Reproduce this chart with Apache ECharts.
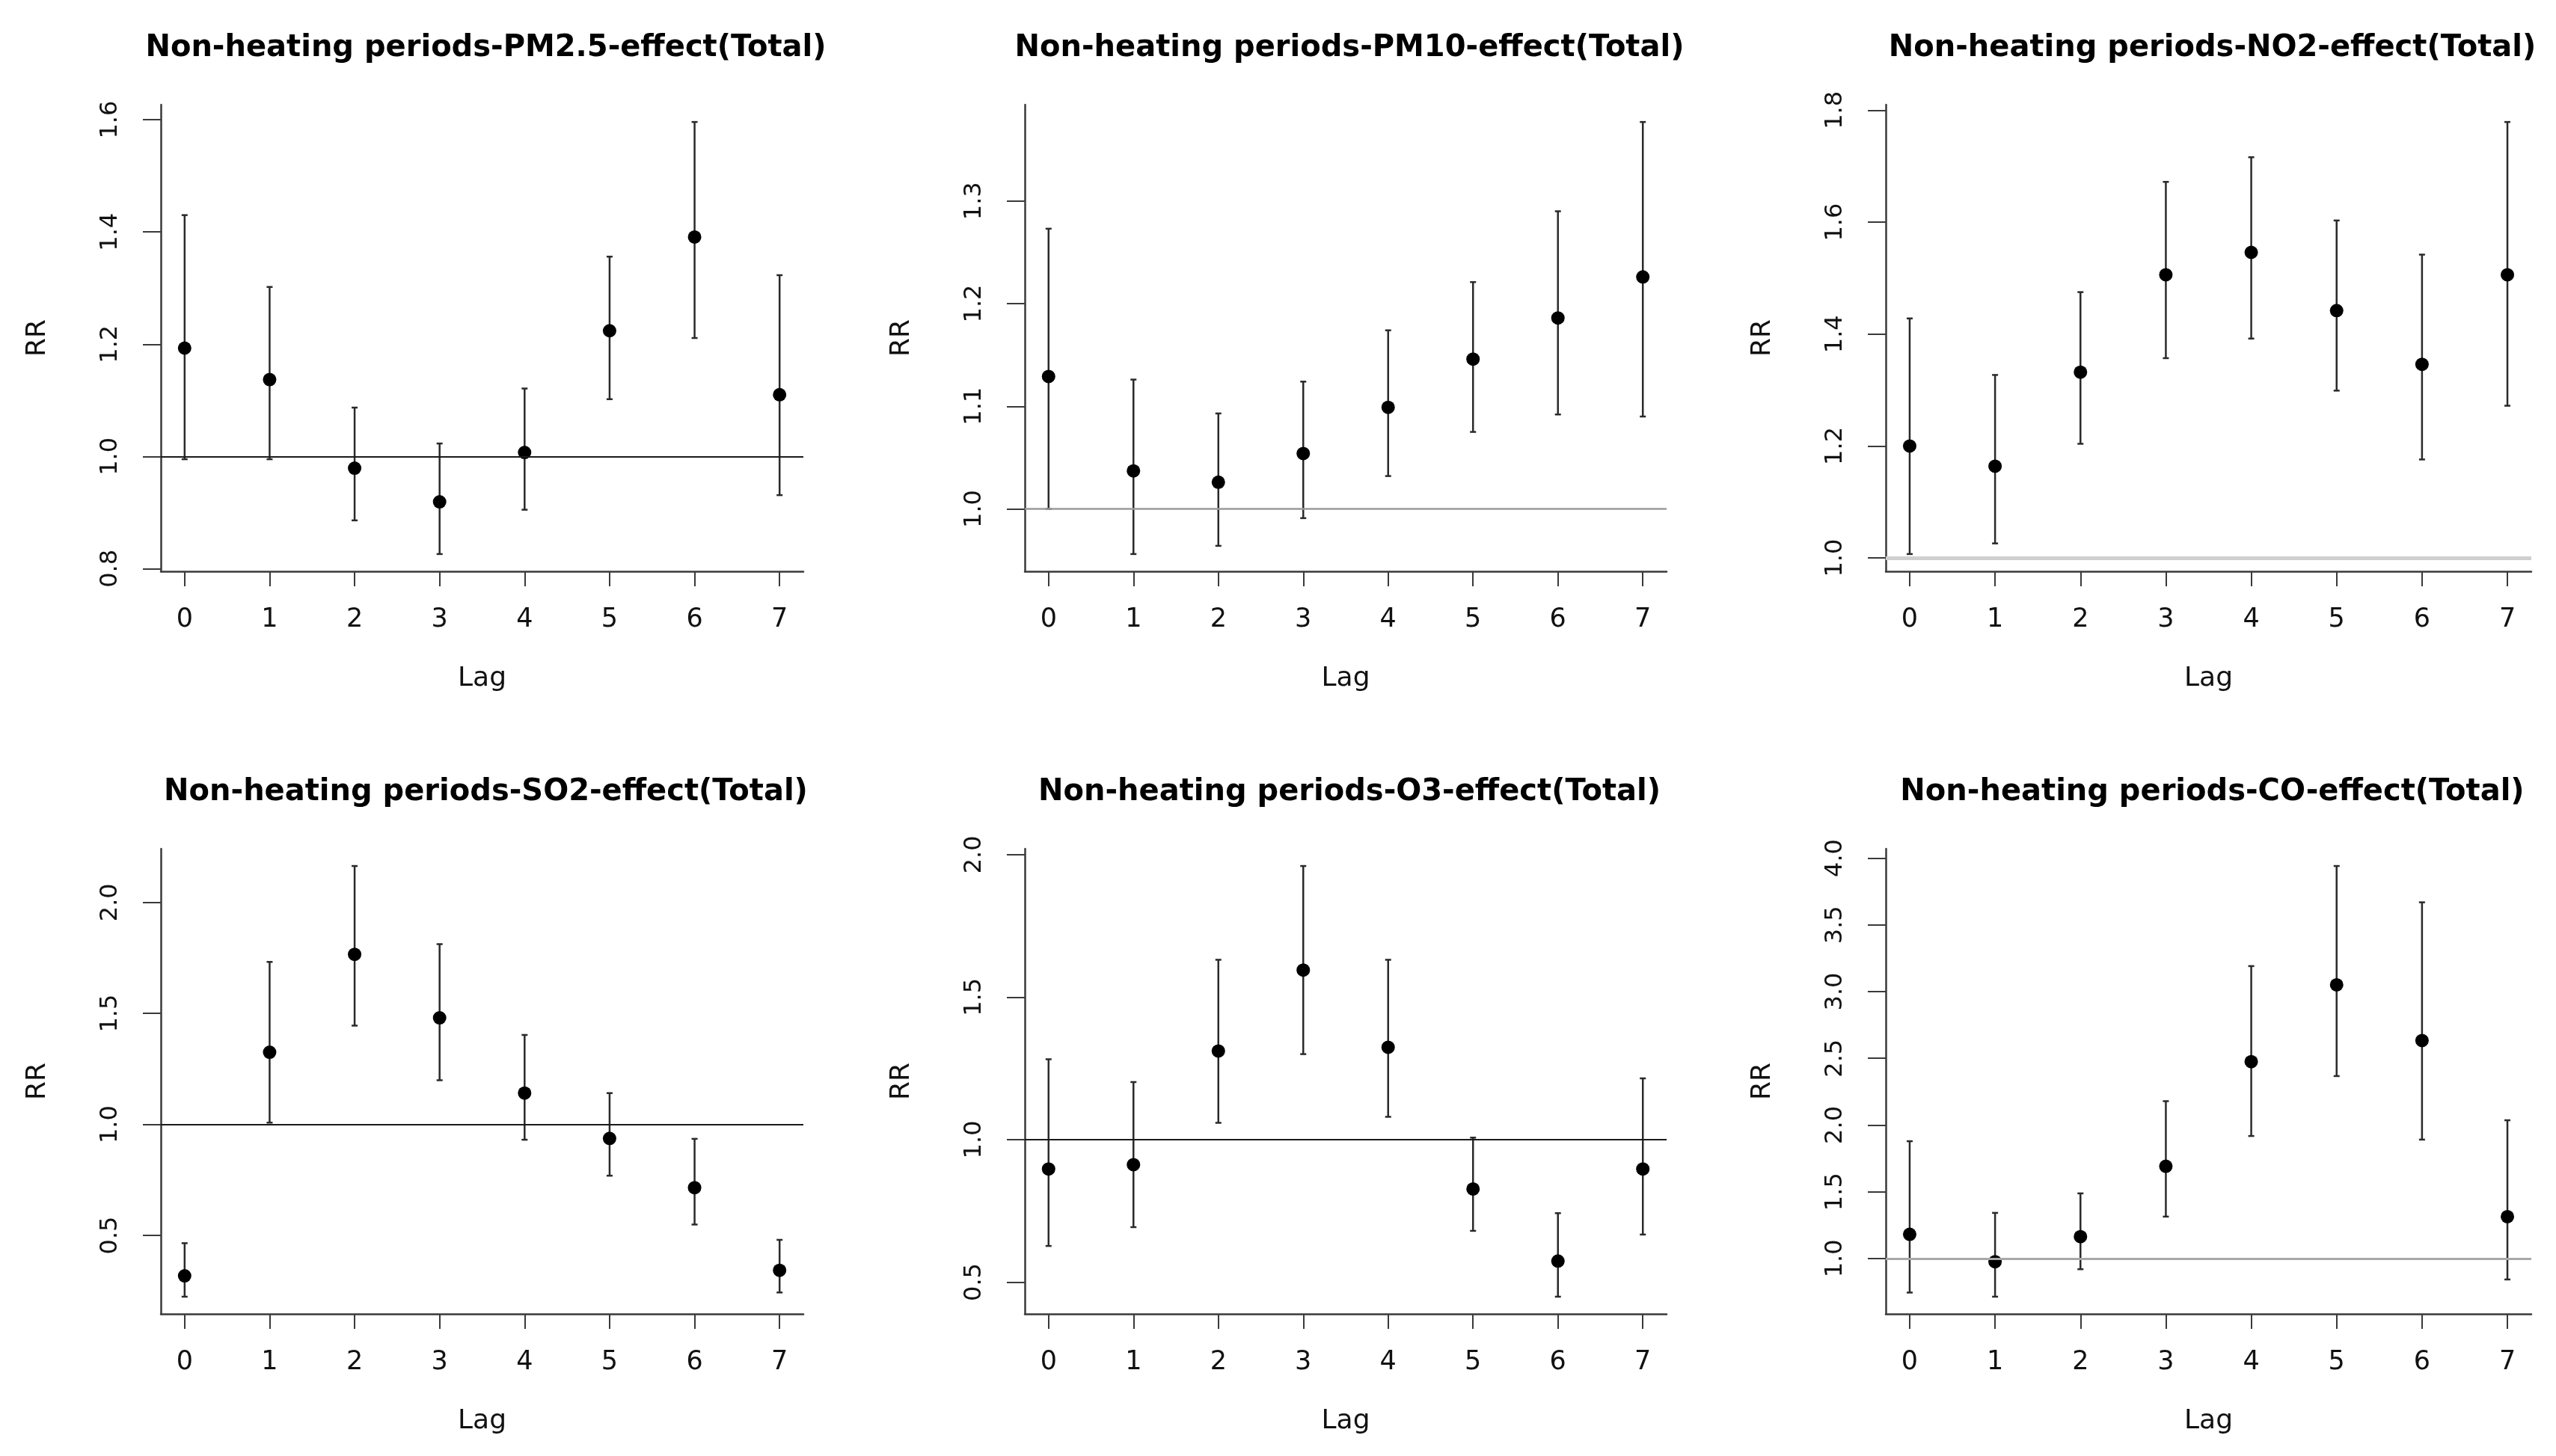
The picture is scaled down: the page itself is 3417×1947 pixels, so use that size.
<!DOCTYPE html>
<html>
<head>
<meta charset="utf-8">
<script src="https://cdn.jsdelivr.net/npm/echarts@6/dist/echarts.min.js"></script>
<style>
html,body{margin:0;padding:0;background:#ffffff;}
#chart{width:3417px;height:1947px;}
</style>
</head>
<body>
<div id="chart"></div>
<script>
// ---------------- data ----------------
const lags = [0, 1, 2, 3, 4, 5, 6, 7];
const lagTicks = [0, 1, 2, 3, 4, 5, 6, 7];

const titles = [
  "Non-heating periods-PM2.5-effect(Total)",
  "Non-heating periods-PM10-effect(Total)",
  "Non-heating periods-NO2-effect(Total)",
  "Non-heating periods-SO2-effect(Total)",
  "Non-heating periods-O3-effect(Total)",
  "Non-heating periods-CO-effect(Total)"
];

const pm25Est  = [1.193, 1.137, 0.979, 0.919, 1.007, 1.224, 1.391, 1.110];
const pm25Low  = [0.995, 0.995, 0.886, 0.826, 0.905, 1.102, 1.211, 0.931];
const pm25High = [1.430, 1.302, 1.087, 1.023, 1.121, 1.356, 1.596, 1.323];
const pm25Ticks = [0.8, 1.0, 1.2, 1.4, 1.6];

const pm10Est  = [1.129, 1.037, 1.026, 1.054, 1.099, 1.146, 1.186, 1.226];
const pm10Low  = [1.000, 0.956, 0.964, 0.991, 1.032, 1.075, 1.092, 1.090];
const pm10High = [1.273, 1.126, 1.093, 1.124, 1.174, 1.221, 1.290, 1.377];
const pm10Ticks = [1.0, 1.1, 1.2, 1.3];

const no2Est  = [1.200, 1.164, 1.332, 1.506, 1.546, 1.442, 1.346, 1.506];
const no2Low  = [1.007, 1.026, 1.204, 1.357, 1.392, 1.299, 1.176, 1.272];
const no2High = [1.428, 1.327, 1.475, 1.672, 1.716, 1.603, 1.542, 1.779];
const no2Ticks = [1.0, 1.2, 1.4, 1.6, 1.8];

const so2Est  = [0.318, 1.325, 1.766, 1.480, 1.141, 0.937, 0.715, 0.343];
const so2Low  = [0.224, 1.008, 1.445, 1.199, 0.931, 0.769, 0.549, 0.243];
const so2High = [0.465, 1.732, 2.164, 1.812, 1.403, 1.141, 0.935, 0.480];
const so2Ticks = [0.5, 1.0, 1.5, 2.0];

const o3Est  = [0.897, 0.912, 1.311, 1.595, 1.324, 0.827, 0.574, 0.897];
const o3Low  = [0.627, 0.693, 1.059, 1.300, 1.080, 0.680, 0.449, 0.667];
const o3High = [1.282, 1.202, 1.631, 1.960, 1.631, 1.007, 0.742, 1.215];
const o3Ticks = [0.5, 1.0, 1.5, 2.0];

const coEst  = [1.181, 0.976, 1.164, 1.691, 2.475, 3.051, 2.633, 1.314];
const coLow  = [0.745, 0.714, 0.920, 1.314, 1.918, 2.367, 1.891, 0.843];
const coHigh = [1.879, 1.342, 1.488, 2.179, 3.191, 3.941, 3.669, 2.036];
const coTicks = [1.0, 1.5, 2.0, 2.5, 3.0, 3.5, 4.0];

const refValue = 1.0;

// ---------------- layout / style ----------------
const panels = [
  {est: pm25Est, low: pm25Low, high: pm25High, ticks: pm25Ticks},
  {est: pm10Est, low: pm10Low, high: pm10High, ticks: pm10Ticks},
  {est: no2Est,  low: no2Low,  high: no2High,  ticks: no2Ticks},
  {est: so2Est,  low: so2Low,  high: so2High,  ticks: so2Ticks},
  {est: o3Est,   low: o3Low,   high: o3High,   ticks: o3Ticks},
  {est: coEst,   low: coLow,   high: coHigh,   ticks: coTicks}
];
const gridRects = [
  {left: 215,  top: 140,  width: 859, height: 624},
  {left: 1370, top: 140,  width: 858, height: 624},
  {left: 2521, top: 140,  width: 863, height: 624},
  {left: 215,  top: 1135, width: 859, height: 622},
  {left: 1370, top: 1135, width: 858, height: 622},
  {left: 2521, top: 1135, width: 863, height: 622}
];
const refStyles = [
  {color: '#1a1a1a', width: 2},
  {color: '#9a9a9a', width: 2.5},
  {color: '#cfcfcf', width: 5},
  {color: '#1a1a1a', width: 2},
  {color: '#1a1a1a', width: 2},
  {color: '#a8a8a8', width: 3}
];
const axisColor = '#3a3a3a';
const textColor = '#111111';
const FONT = 'DejaVu Sans';

const grid = [], xAxis = [], yAxis = [], series = [], title = [];

panels.forEach(function (p, i) {
  const g = gridRects[i];
  grid.push({left: g.left, top: g.top, width: g.width, height: g.height, containLabel: false});

  const lo = Math.min.apply(null, p.low), hi = Math.max.apply(null, p.high);
  const ext = (hi - lo) * 0.04;
  const xlo = Math.min.apply(null, lags), xhi = Math.max.apply(null, lags);
  const xext = (xhi - xlo) * 0.04;

  title.push({
    text: titles[i],
    left: g.left + g.width / 2,
    top: g.top < 500 ? 40 : 1035,
    textAlign: 'center',
    textStyle: {fontFamily: FONT, fontWeight: 'bold', fontSize: 40, color: '#000'}
  });

  xAxis.push({
    gridIndex: i, type: 'value', min: xlo - xext, max: xhi + xext,
    axisLine: {show: true, onZero: false, lineStyle: {color: axisColor, width: 2.5}},
    axisTick: {show: true, length: 20, customValues: lagTicks, lineStyle: {color: axisColor, width: 2}},
    axisLabel: {show: true, customValues: lagTicks, fontFamily: FONT, fontSize: 35, color: textColor, margin: 47},
    splitLine: {show: false},
    name: 'Lag', nameLocation: 'middle', nameGap: 126,
    nameTextStyle: {fontFamily: FONT, fontSize: 36, color: textColor}
  });

  yAxis.push({
    gridIndex: i, type: 'value', min: lo - ext, max: hi + ext,
    axisLine: {show: true, onZero: false, lineStyle: {color: axisColor, width: 2.5}},
    axisTick: {show: true, length: 24, customValues: p.ticks, lineStyle: {color: axisColor, width: 2}},
    axisLabel: {show: true, customValues: p.ticks, rotate: 90, fontFamily: FONT, fontSize: 32, color: textColor, margin: 51,
      formatter: function (v) { return Number(v).toFixed(1); }},
    splitLine: {show: false},
    name: 'RR', nameLocation: 'middle', nameRotate: 90, nameGap: 146,
    nameTextStyle: {fontFamily: FONT, fontSize: 36, color: textColor}
  });

  series.push({
    type: 'custom', xAxisIndex: i, yAxisIndex: i, z: 2, silent: true,
    data: lags.map(function (l, k) { return [l, p.low[k], p.high[k]]; }),
    encode: {x: 0, y: [1, 2]},
    renderItem: function (params, api) {
      const x = api.value(0);
      const a = api.coord([x, api.value(1)]);
      const b = api.coord([x, api.value(2)]);
      const cap = 4;
      const st = {stroke: '#2a2a2a', lineWidth: 2.5};
      return {type: 'group', children: [
        {type: 'line', shape: {x1: a[0], y1: a[1], x2: b[0], y2: b[1]}, style: st},
        {type: 'line', shape: {x1: b[0] - cap, y1: b[1], x2: b[0] + cap, y2: b[1]}, style: st},
        {type: 'line', shape: {x1: a[0] - cap, y1: a[1], x2: a[0] + cap, y2: a[1]}, style: st}
      ]};
    }
  });

  series.push({
    type: 'scatter', xAxisIndex: i, yAxisIndex: i, z: 3,
    symbol: 'circle', symbolSize: 18,
    itemStyle: {color: '#000', opacity: 1},
    data: lags.map(function (l, k) { return [l, p.est[k]]; }),
    markLine: {
      silent: true, symbol: 'none', animation: false,
      label: {show: false},
      lineStyle: {color: refStyles[i].color, width: refStyles[i].width, type: 'solid'},
      data: [{yAxis: refValue}]
    }
  });
});

const chart = echarts.init(document.getElementById('chart'));
chart.setOption({
  animation: false,
  backgroundColor: '#ffffff',
  title: title,
  grid: grid,
  xAxis: xAxis,
  yAxis: yAxis,
  series: series
});
</script>
</body>
</html>
